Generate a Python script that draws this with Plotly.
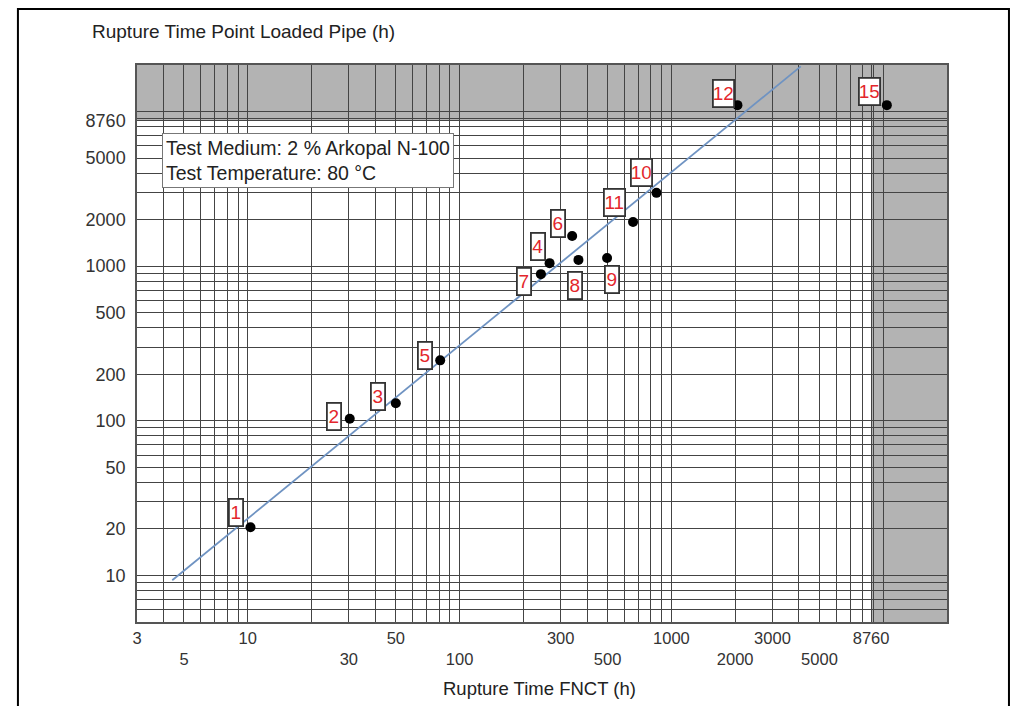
import math
import plotly.graph_objects as go

# ---------------- data ----------------
sample_ids = ["1", "2", "3", "4", "5", "6", "7", "8", "9", "10", "11", "12", "15"]
fnct_h = [10.3, 30.3, 50, 266, 81, 340, 242, 364, 497, 850, 659, 2050, 10400]
pipe_h = [20.5, 103, 130, 1046, 246, 1568, 888, 1098, 1131, 2980, 1932, 11000, 11000]

fit_x = [4.4, 4080]
fit_y = [9.3, 19600]

x_tick_vals = [3, 5, 10, 30, 50, 100, 300, 500, 1000, 2000, 3000, 5000, 8760]
x_tick_text = ["3", "<br>5", "10", "<br>30", "50", "<br>100", "300", "<br>500",
               "1000", "<br>2000", "3000", "<br>5000", "8760"]
y_tick_vals = [10, 20, 50, 100, 200, 500, 1000, 2000, 5000, 8760]
y_tick_text = ["10", "20", "50", "100", "200", "500", "1000", "2000", "5000", "8760"]

limit_h = 8760  # one year, shaded region beyond

# label box offsets (px) relative to each point: (xshift, yshift)
label_offsets = [(-14, 15), (-16, 2), (-18, 7), (-12, 17), (-15, 5), (-14, 12),
                 (-17, -7), (-3, -26), (5, -22), (-15, 20), (-19, 19), (-14, 12), (-17, 14)]

FONT = "Liberation Sans, Arial, sans-serif"
NARROW = "Liberation Sans Narrow, Arial Narrow, Liberation Sans, Arial, sans-serif"
GRID = "#444444"


def minor_vals(lo_exp, hi_exp):
    vals = []
    for e in range(lo_exp, hi_exp + 1):
        for m in range(1, 10):
            vals.append(m * 10 ** e)
    return vals


x_minor = [v for v in minor_vals(0, 4) if 3 <= v <= 20000]
y_minor = [v for v in minor_vals(0, 4) if 5 <= v <= 20000]

fig = go.Figure()

fig.add_trace(go.Scatter(
    x=fit_x, y=fit_y, mode="lines",
    line=dict(color="#6f93c2", width=1.8),
    hoverinfo="skip", showlegend=False,
))

fig.add_trace(go.Scatter(
    x=fnct_h, y=pipe_h, mode="markers",
    marker=dict(color="black", size=10),
    text=sample_ids, showlegend=False,
))

# shaded region beyond one year
fig.add_shape(type="rect", xref="x", yref="paper", x0=limit_h, x1=20000, y0=0, y1=1,
              fillcolor="#b3b3b3", line=dict(width=0), layer="below")
fig.add_shape(type="rect", xref="paper", yref="paper", x0=0, x1=1,
              y0=(math.log10(limit_h) - math.log10(5)) / (math.log10(20000) - math.log10(5)), y1=1,
              fillcolor="#b3b3b3", line=dict(width=0), layer="below")

# outer frame
fig.add_shape(type="rect", xref="paper", yref="paper", x0=-0.147, x1=1.0765,
              y0=-0.2, y1=1.1005, line=dict(color="black", width=2), fillcolor="rgba(0,0,0,0)")

# point labels
for sid, xv, yv, (dx, dy) in zip(sample_ids, fnct_h, pipe_h, label_offsets):
    fig.add_annotation(
        x=math.log10(xv), y=math.log10(yv), xref="x", yref="y",
        text=sid, showarrow=False, xshift=dx, yshift=dy,
        font=dict(family=NARROW, size=19, color="#e3262c"),
        bgcolor="white", bordercolor="#333333", borderwidth=1.8, borderpad=0,
        width=12 if len(sid) == 1 else 19, height=25,
    )

# test info box
fig.add_annotation(
    xref="paper", yref="paper", x=0.0309, y=0.878, xanchor="left", yanchor="top",
    text="Test Medium: 2 % Arkopal N-100<br>Test Temperature: 80 °C",
    align="left", showarrow=False,
    font=dict(family=FONT, size=19.5, color="#222"),
    bgcolor="white", bordercolor="#777", borderwidth=1, borderpad=3,
)

# y axis title (top-left)
fig.add_annotation(
    xref="paper", yref="paper", x=-0.058, y=1.061, xanchor="left", yanchor="middle",
    text="Rupture Time Point Loaded Pipe (h)", showarrow=False,
    font=dict(family=FONT, size=19, color="#222"),
)

# x axis title
fig.add_annotation(
    xref="paper", yref="paper", x=0.497, y=-0.1185, xanchor="center", yanchor="middle",
    text="Rupture Time FNCT (h)", showarrow=False,
    font=dict(family=FONT, size=18.5, color="#222"),
)

fig.update_xaxes(
    type="log", range=[math.log10(3), math.log10(20000)],
    tickmode="array", tickvals=x_tick_vals, ticktext=x_tick_text, tickangle=0,
    tickfont=dict(family=FONT, size=16.5, color="#333"), ticks="", ticklabelstandoff=0,
    showgrid=True, gridcolor=GRID, gridwidth=1,
    minor=dict(tickmode="array", tickvals=x_minor, showgrid=True, gridcolor=GRID, gridwidth=1, ticks=""),
    showline=True, linecolor="#555", linewidth=1.5, mirror=True, zeroline=False,
)
fig.update_yaxes(
    type="log", range=[math.log10(5), math.log10(20000)],
    tickmode="array", tickvals=y_tick_vals, ticktext=y_tick_text,
    tickfont=dict(family=FONT, size=18, color="#333"), ticks="", ticklabelstandoff=6,
    showgrid=True, gridcolor=GRID, gridwidth=1,
    minor=dict(tickmode="array", tickvals=y_minor, showgrid=True, gridcolor=GRID, gridwidth=1, ticks=""),
    showline=True, linecolor="#555", linewidth=1.5, mirror=True, zeroline=False,
)

fig.update_layout(
    width=1022, height=698,
    margin=dict(l=129, r=83, t=57, b=84),
    paper_bgcolor="white", plot_bgcolor="white",
    showlegend=False,
    font=dict(family=FONT),
)

fig.write_html("out.html")
